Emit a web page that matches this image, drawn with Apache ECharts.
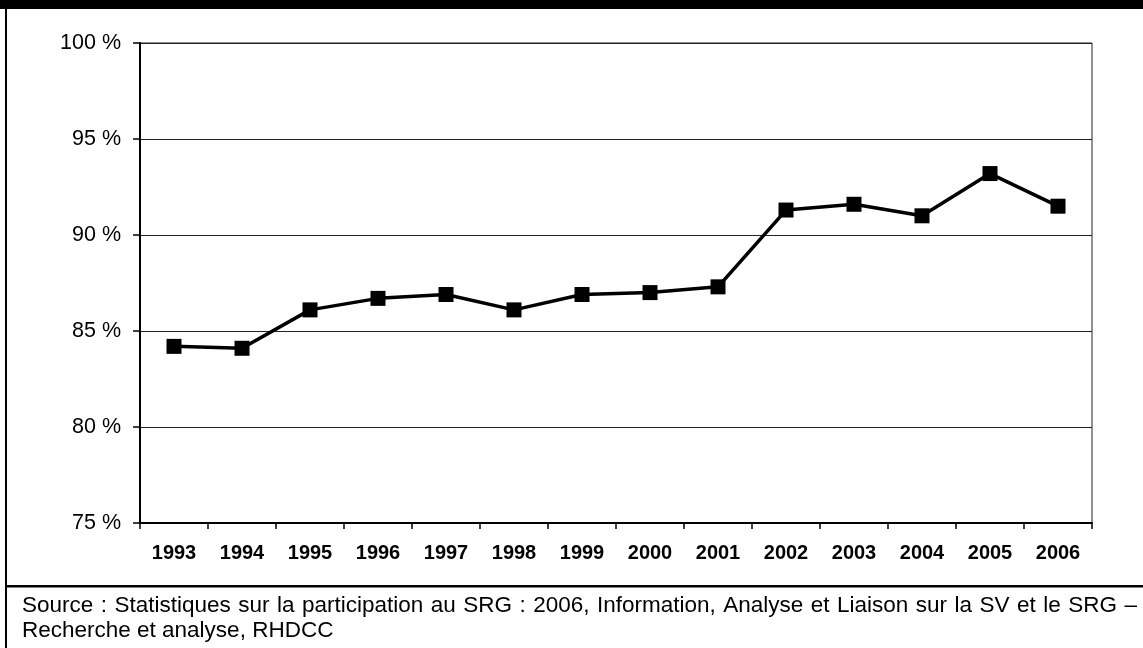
<!DOCTYPE html>
<html>
<head>
<meta charset="utf-8">
<style>
  html, body { margin: 0; padding: 0; background: #fff; }
  #chart { width: 1143px; height: 648px; }
</style>
<script src="https://cdn.jsdelivr.net/npm/echarts@6/dist/echarts.min.js"></script>
</head>
<body>
<div id="chart"></div>
<script>
// Participation rate by year
const years = ['1993', '1994', '1995', '1996', '1997', '1998', '1999',
               '2000', '2001', '2002', '2003', '2004', '2005', '2006'];
const rates = [84.2, 84.1, 86.1, 86.7, 86.9, 86.1, 86.9,
               87.0, 87.3, 91.3, 91.6, 91.0, 93.2, 91.5];
const yTicks = [75, 80, 85, 90, 95, 100];

const sourceLine1 = 'Source : Statistiques sur la participation au SRG : 2006, Information, Analyse et Liaison sur la SV et le SRG –';
const sourceLine2 = 'Recherche et analyse, RHDCC';

const FONT = '"Liberation Sans", Arial, sans-serif';
const NOTE_FONT = '22.5px ' + FONT;

// Lay out a justified line of text word by word between x0 and x1
function justifiedWords(text, x0, x1, top, font) {
  const ctx = document.createElement('canvas').getContext('2d');
  ctx.font = font;
  const words = text.split(' ');
  const widths = words.map(w => ctx.measureText(w).width);
  const total = widths.reduce((a, b) => a + b, 0);
  const gap = words.length > 1 ? (x1 - x0 - total) / (words.length - 1) : 0;
  const out = [];
  let x = x0;
  words.forEach((w, i) => {
    out.push({ type: 'text', x: x, y: top,
               style: { text: w, font: font, fill: '#000', textVerticalAlign: 'top' } });
    x += widths[i] + gap;
  });
  return out;
}

const chart = echarts.init(document.getElementById('chart'), null, { renderer: 'canvas' });

chart.setOption({
  animation: false,
  backgroundColor: '#fff',
  grid: {
    left: 140, top: 43, width: 952, height: 480,
    show: true, borderColor: '#222', borderWidth: 1, backgroundColor: 'transparent'
  },
  xAxis: {
    type: 'category',
    data: years,
    boundaryGap: true,
    axisLine: { lineStyle: { color: '#000', width: 2 } },
    axisTick: { show: true, inside: false, length: 6, alignWithLabel: false,
                lineStyle: { color: '#000', width: 1.5 } },
    axisLabel: { fontFamily: FONT, fontSize: 20, fontWeight: 'bold', color: '#000', margin: 20 },
    splitLine: { show: false }
  },
  yAxis: {
    type: 'value',
    min: yTicks[0],
    max: yTicks[yTicks.length - 1],
    interval: yTicks[1] - yTicks[0],
    axisLine: { show: true, lineStyle: { color: '#000', width: 2 } },
    axisTick: { show: true, inside: false, length: 7, lineStyle: { color: '#000', width: 1.5 } },
    axisLabel: { fontFamily: FONT, fontSize: 21.5, color: '#000', margin: 19,
                 formatter: v => v + ' %' },
    splitLine: { show: true, lineStyle: { color: '#222', width: 1.2 } }
  },
  series: [{
    type: 'line',
    data: rates,
    symbol: 'rect',
    symbolSize: 15,
    lineStyle: { color: '#000', width: 3.5 },
    itemStyle: { color: '#000' },
    z: 5
  }],
  graphic: [
    // frame: top bar, left rule, separator above the source note
    { type: 'rect', left: 0, top: 0, shape: { width: 1143, height: 9 }, style: { fill: '#000' } },
    { type: 'rect', left: 5, top: 0, shape: { width: 2, height: 648 }, style: { fill: '#000' } },
    { type: 'rect', left: 5, top: 585, shape: { width: 1138, height: 2.5 }, style: { fill: '#000' } },
    ...justifiedWords(sourceLine1, 22, 1137, 594, NOTE_FONT),
    { type: 'text', x: 22, y: 619,
      style: { text: sourceLine2, font: NOTE_FONT, fill: '#000', textVerticalAlign: 'top' } }
  ]
});
</script>
</body>
</html>
